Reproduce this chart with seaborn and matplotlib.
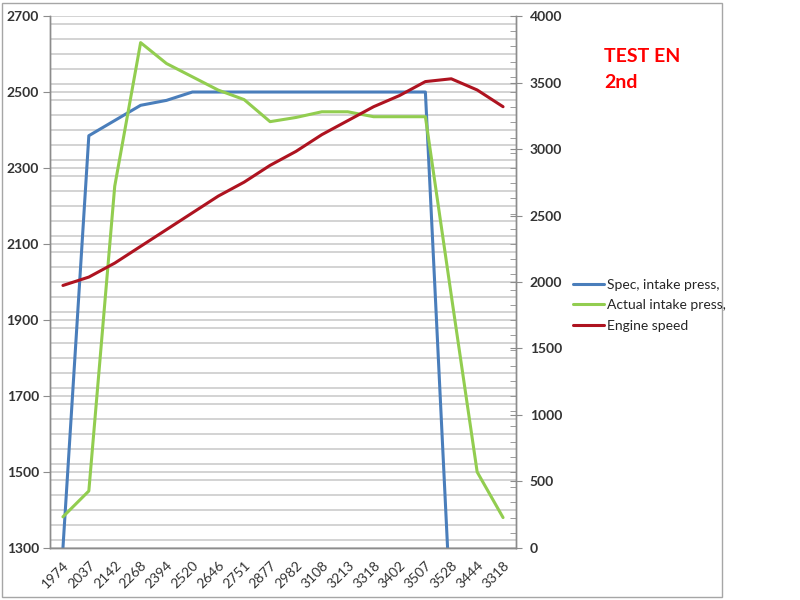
import numpy as np
import matplotlib
matplotlib.use("Agg")
import matplotlib.pyplot as plt
import seaborn as sns
from matplotlib.ticker import MultipleLocator, FixedLocator
from matplotlib.patches import Rectangle

# x categories (engine speed readings)
labels = ["1974", "2037", "2142", "2268", "2394", "2520", "2646", "2751", "2877",
          "2982", "3108", "3213", "3318", "3402", "3507", "3528", "3444", "3318"]

spec_press = [1300, 2385, 2425, 2465, 2478, 2500, 2500, 2500, 2500,
              2500, 2500, 2500, 2500, 2500, 2500, 1100, np.nan, np.nan]
actual_press = [1382, 1450, 2252, 2630, 2575, 2540, 2505, 2480, 2422,
                2433, 2448, 2448, 2435, 2435, 2435, 1965, 1500, 1380]
engine_speed = [1974, 2037, 2142, 2268, 2394, 2520, 2646, 2751, 2877,
                2982, 3108, 3213, 3318, 3402, 3507, 3528, 3444, 3318]

sns.set_style("white")
plt.rcParams['font.family'] = ['Lato', 'DejaVu Sans']

c_spec = "#4A7EBB"
c_act = "#92CD50"
c_eng = "#AE1320"
grid_c = "#C8C8C8"
axis_c = "#8C8C8C"

fig = plt.figure(figsize=(8, 6), dpi=100)
ax = fig.add_axes([0.0625, 0.0867, 0.5825, 0.8866])
ax2 = ax.twinx()

idx = np.arange(len(labels))

sns.lineplot(x=idx, y=spec_press, ax=ax, color=c_spec, lw=2.2, label="Spec, intake press,", legend=False)
sns.lineplot(x=idx, y=actual_press, ax=ax, color=c_act, lw=2.2, label="Actual intake press,", legend=False)
sns.lineplot(x=idx, y=engine_speed, ax=ax2, color=c_eng, lw=2.2, label="Engine speed", legend=False)

ax.set_xlim(-0.5, len(labels) - 0.5)
ax.set_ylim(1300, 2700)
ax2.set_ylim(0, 4000)

# left axis: labels every 200, gridlines every 40
ax.yaxis.set_major_locator(FixedLocator(np.arange(1300, 2701, 200)))
ax.yaxis.set_minor_locator(MultipleLocator(40))
ax.set_axisbelow(True)
ax.grid(axis="y", which="both", color=grid_c, lw=1.1)
ax.grid(axis="x", visible=False)

ax2.yaxis.set_major_locator(MultipleLocator(500))
ax2.yaxis.set_minor_locator(FixedLocator([(v - 1300) / 1400 * 4000 for v in np.arange(1300, 2701, 40)]))
ax2.grid(False)

ax.set_xticks(idx)
ax.set_xticklabels(labels, rotation=45, ha="right", rotation_mode="anchor", fontsize=10)
ax.xaxis.set_minor_locator(FixedLocator(np.arange(-0.5, len(labels), 1)))
ax.tick_params(axis="x", which="major", length=0, pad=8)
ax.tick_params(axis="x", which="minor", length=5, color=axis_c, direction="out")
ax.tick_params(axis="y", which="major", length=5, color=axis_c, labelsize=10, pad=3)
ax.tick_params(axis="y", which="minor", length=0)
ax2.tick_params(axis="y", which="major", length=8, color=axis_c, direction="inout", labelsize=10, pad=6)
ax2.tick_params(axis="y", which="minor", length=4, color=axis_c, direction="in")
for t in ax.get_yticklabels() + ax2.get_yticklabels():
    t.set_fontweight("bold")
    t.set_color("#333333")
for t in ax.get_xticklabels():
    t.set_color("#333333")

for a in (ax, ax2):
    a.set_xlabel("")
    a.set_ylabel("")
    a.spines["top"].set_visible(False)
    for s in ("left", "right", "bottom"):
        a.spines[s].set_color(axis_c)
        a.spines[s].set_linewidth(1.0)

# combined legend to the right of the plot
h1, l1 = ax.get_legend_handles_labels()
h2, l2 = ax2.get_legend_handles_labels()
fig.legend(h1 + h2, l1 + l2, loc="upper left", bbox_to_anchor=(0.7, 0.556),
           frameon=False, fontsize=10, handlelength=2.3, handletextpad=0.2,
           labelspacing=0.6)

fig.text(0.755, 0.905, "TEST EN", color="#FF0000", fontsize=14, fontweight="bold", va="center")
fig.text(0.755, 0.862, "2nd", color="#FF0000", fontsize=14, fontweight="bold", va="center")

# outer chart border
fig.patches.append(Rectangle((0.003, 0.005), 0.9, 0.99, transform=fig.transFigure,
                             fill=False, edgecolor="#A6A6A6", lw=1.0))

fig.savefig("out.png", dpi=100)
